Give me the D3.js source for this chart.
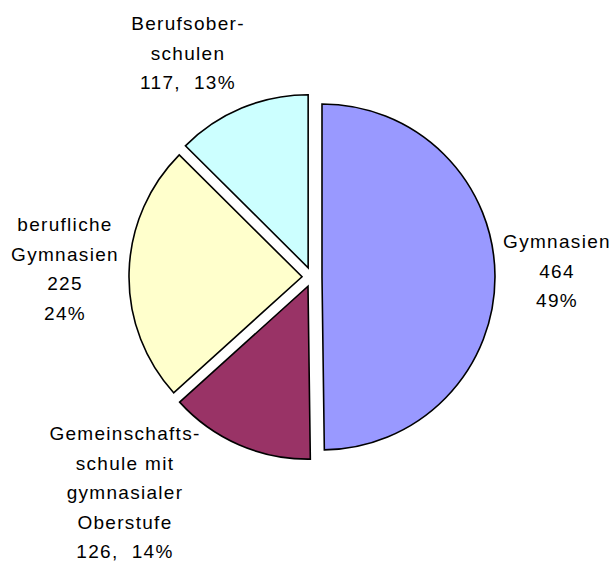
<!DOCTYPE html>
<html>
<head>
<meta charset="utf-8">
<script src="https://cdn.jsdelivr.net/npm/d3@7"></script>
<style>
  html, body { margin: 0; padding: 0; background: #fff; }
  svg text {
    font-family: "Liberation Sans", Arial, sans-serif;
    font-size: 19px;
    letter-spacing: 1.3px;
    white-space: pre;
    fill: #000;
  }
</style>
</head>
<body>
<svg id="chart" width="612" height="563"></svg>
<script>
// Schools by type (clockwise from 12 o'clock)
const categories = [
  "Gymnasien",
  "Gemeinschaftsschule mit gymnasialer Oberstufe",
  "berufliche Gymnasien",
  "Berufsoberschulen"
];
const values = [464, 126, 225, 117];
const percentLabels = ["49%", "14%", "24%", "13%"];
// Wrapped category names as printed next to each slice
const nameLines = [
  ["Gymnasien"],
  ["Gemeinschafts-", "schule mit", "gymnasialer", "Oberstufe"],
  ["berufliche", "Gymnasien"],
  ["Berufsober-", "schulen"]
];
const sliceColors = ["#9999FF", "#993366", "#FFFFCC", "#CCFFFF"];

// Layout
const cx = 312, cy = 277, radius = 173, explode = 10;
const lineHeight = 29.5;
// value and percent on separate lines, or joined on one line
const splitValueLine = [true, false, true, false];
// label block: horizontal centre and first baseline
const labelAnchor = [
  [557, 248],
  [125, 440],
  [65, 231],
  [188, 30]
];

const svg = d3.select("#chart");
const data = categories.map((c, i) => ({ name: c, value: values[i], i }));

const pie = d3.pie().sort(null).value(d => d.value);
const arc = d3.arc().innerRadius(0).outerRadius(radius);
const arcs = pie(data);

const g = svg.append("g").attr("transform", `translate(${cx},${cy})`);

g.selectAll("path.slice")
  .data(arcs)
  .join("path")
  .attr("class", "slice")
  .attr("transform", d => {
    const a = (d.startAngle + d.endAngle) / 2;
    return `translate(${explode * Math.sin(a)},${-explode * Math.cos(a)})`;
  })
  .attr("d", arc)
  .attr("fill", d => sliceColors[d.data.i])
  .attr("stroke", "#000")
  .attr("stroke-width", 1.6)
  .attr("stroke-linejoin", "miter");

// Labels
arcs.forEach(d => {
  const i = d.data.i;
  const lines = nameLines[i].slice();
  if (splitValueLine[i]) {
    lines.push(String(values[i]), percentLabels[i]);
  } else {
    lines.push(`${values[i]},  ${percentLabels[i]}`);
  }
  const t = svg.append("text")
    .attr("text-anchor", "middle")
    .attr("x", labelAnchor[i][0])
    .attr("y", labelAnchor[i][1]);
  lines.forEach((ln, k) => {
    t.append("tspan")
      .attr("x", labelAnchor[i][0])
      .attr("y", labelAnchor[i][1] + k * lineHeight)
      .text(ln);
  });
});
</script>
</body>
</html>
